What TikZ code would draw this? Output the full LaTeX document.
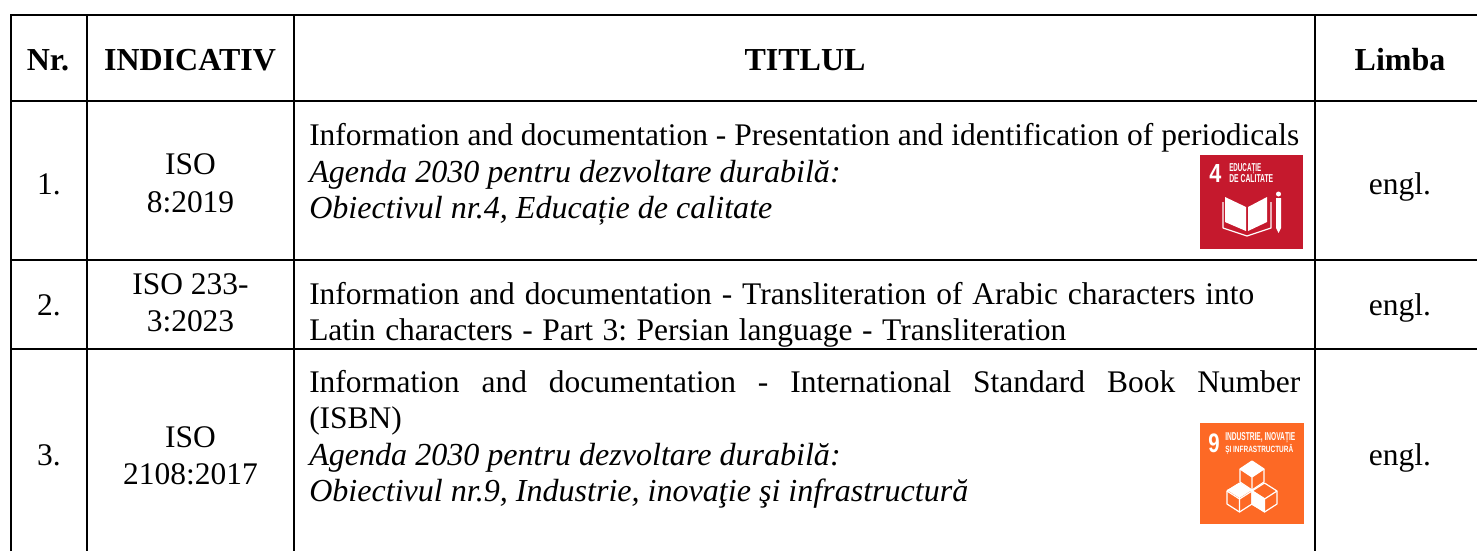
\documentclass[tikz,border=0pt]{standalone}
\usepackage{fontspec}
\setmainfont{Liberation Serif}
\newfontfamily\iconfont{Liberation Sans}
\definecolor{sdgred}{HTML}{C5192D}
\definecolor{sdgorange}{HTML}{FD6925}
\newcommand{\fs}{\fontsize{23.6}{28}\selectfont}
\newcommand{\fsi}{\fontsize{24.05}{28}\selectfont\itshape}
\newcommand{\fsb}{\fontsize{24}{28}\selectfont\bfseries}
\newcommand{\icontext}[3]{\raisebox{0pt}[\height][0pt]{\resizebox{#1}{#2}{\iconfont\bfseries #3}}}
\frenchspacing
\tikzset{
  grid/.style={line width=1.9pt,black},
  cell/.style={inner sep=0pt,anchor=base,font=\fs,text=black},
  head/.style={inner sep=0pt,anchor=base,font=\fsb,text=black},
  body/.style={inner sep=0pt,anchor=base west,font=\fs,text=black},
  bodyit/.style={inner sep=0pt,anchor=base west,font=\fsi,text=black},
  icontx/.style={inner sep=0pt,anchor=base west,text=white},
  icongfx/.style={white,line width=0.9pt,line join=round},
}
\begin{document}
\begin{tikzpicture}[x=0.75pt,y=-0.75pt]
\useasboundingbox (0,0) rectangle (1477,551);
\fill[white] (0,0) rectangle (1477,551);
% grid
\draw[grid] (11,551) -- (11,15) -- (1477,15);
\draw[grid] (87,15) -- (87,551);
\draw[grid] (294,15) -- (294,551);
\draw[grid] (1315,15) -- (1315,551);
\draw[grid] (11,101) -- (1477,101);
\draw[grid] (11,260) -- (1477,260);
\draw[grid] (11,349) -- (1477,349);
% header
\node[head] (hnr) at (48,70) {Nr.};
\node[head] (hind) at (190,70) {INDICATIV};
\node[head] (htit) at (805,70) {TITLUL};
\node[head] (hlim) at (1400,70) {Limba};
% row 1
\node[cell] (n1) at (49,194) {1.};
\node[cell] (i1a) at (190.5,174) {ISO};
\node[cell] (i1b) at (190.5,212) {8:2019};
\node[body] (t1a) at (309,145.5) {\makebox[742.5pt][s]{Information and documentation - Presentation and identification of periodicals}};
\node[bodyit] (t1b) at (309,182.5) {Agenda 2030 pentru dezvoltare durabilă:};
\node[bodyit] (t1c) at (309,218.5) {Obiectivul nr.4, Educație de calitate};
\node[cell] (l1) at (1400,194) {engl.};
% row 2
\node[cell] (n2) at (49,315.5) {2.};
\node[cell] (i2a) at (190.5,294) {ISO 233-};
\node[cell] (i2b) at (190.5,331.5) {3:2023};
\node[body] (t2a) at (309,304) {\makebox[708.75pt][s]{Information and documentation - Transliteration of Arabic characters into}};
\node[body] (t2b) at (309,340.5) {\makebox[567.75pt][s]{Latin characters - Part 3: Persian language - Transliteration}};
\node[cell] (l2) at (1400,315.5) {engl.};
% row 3
\node[cell] (n3) at (49,465.5) {3.};
\node[cell] (i3a) at (190.5,447.5) {ISO};
\node[cell] (i3b) at (190.5,484.5) {2108:2017};
\node[body] (t3a) at (309,392) {\makebox[743.25pt][s]{Information and documentation - International Standard Book Number}};
\node[body] (t3b) at (309,428.5) {(ISBN)};
\node[bodyit] (t3c) at (309,465) {Agenda 2030 pentru dezvoltare durabilă:};
\node[bodyit] (t3d) at (309,501.5) {Obiectivul nr.9, Industrie, inovaţie şi infrastructură};
\node[cell] (l3) at (1400,465.5) {engl.};
% SDG 4 icon
\fill[sdgred] (1200,155) rectangle (1303,249);
\node[icontx] (g4) at (1209,182) {\icontext{9pt}{13.5pt}{4}};
\node[icontx] (g4a) at (1229,171) {\icontext{24pt}{6pt}{EDUCAȚIE}};
\node[icontx] (g4b) at (1229,182) {\icontext{33pt}{6pt}{DE CALITATE}};
\fill[white] (1225,197) -- (1246,207) -- (1246,231) -- (1225,222) -- cycle;
\fill[white] (1267,197) -- (1248,207) -- (1248,231) -- (1267,222) -- cycle;
\draw[icongfx] (1223,202) -- (1223,228) -- (1247,236) -- (1271,228) -- (1271,202);
\fill[white] (1278.5,194) circle (2.5);
\fill[white] (1276,198) -- (1281,198) -- (1281,228) -- (1278.5,233) -- (1276,228) -- cycle;
% SDG 9 icon
\fill[sdgorange] (1200,423) rectangle (1304,524);
\node[icontx] (g9) at (1208,452) {\icontext{8.5pt}{14pt}{9}};
\node[icontx] (g9a) at (1225,440) {\icontext{52.5pt}{6pt}{INDUSTRIE, INOVAȚIE}};
\node[icontx] (g9b) at (1225,452) {\icontext{51pt}{6pt}{ȘI INFRASTRUCTURĂ}};
% cubes
\fill[white] (1252,461) -- (1264,469) -- (1252,477) -- (1240,469) -- cycle;
\fill[white] (1239.5,483) -- (1252,490) -- (1239.5,498) -- (1227,490) -- cycle;
\fill[white] (1252,490) -- (1264.5,498) -- (1264.5,512) -- (1252,505) -- cycle;
\foreach \cx/\cy/\hw in {1252/461/12,1239.5/483/12.5,1264.5/483/12.5}{
  \draw[icongfx] (\cx,\cy) -- (\cx+\hw,\cy+8) -- (\cx+\hw,\cy+21) -- (\cx,\cy+29) -- (\cx-\hw,\cy+21) -- (\cx-\hw,\cy+8) -- cycle;
  \draw[icongfx] (\cx-\hw,\cy+8) -- (\cx,\cy+16) -- (\cx+\hw,\cy+8) (\cx,\cy+16) -- (\cx,\cy+29);
}
\end{tikzpicture}
\end{document}
